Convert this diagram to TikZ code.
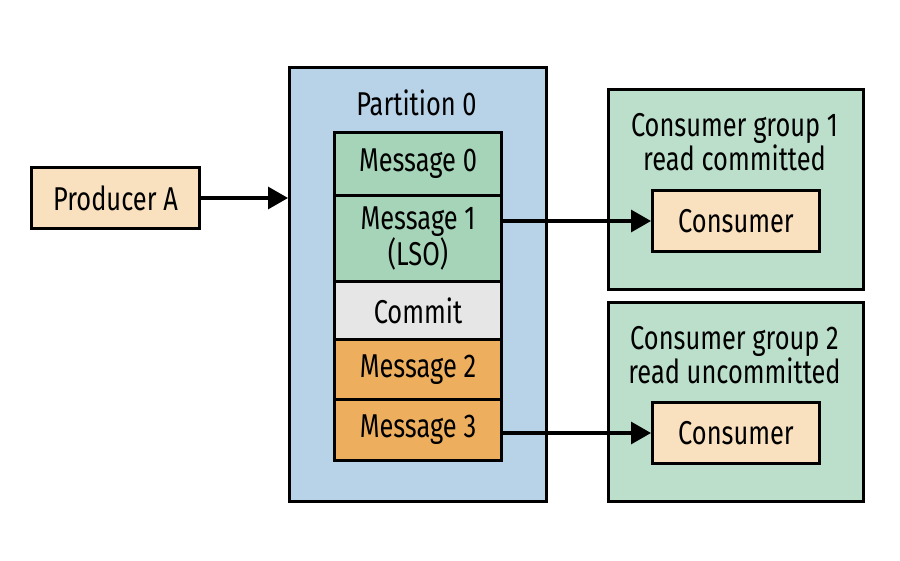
\documentclass[tikz,border=0pt]{standalone}
\usepackage{fontspec}
\setmainfont{Fira Sans}[FakeStretch=0.77]
\usetikzlibrary{arrows.meta}
\definecolor{partblue}{HTML}{B8D3E8}
\definecolor{msggreen}{HTML}{A6D4B8}
\definecolor{grpgreen}{HTML}{BCDFCB}
\definecolor{beige}{HTML}{F9E0BE}
\definecolor{commitgray}{HTML}{E6E6E6}
\definecolor{msgorange}{HTML}{EDAE5E}
\tikzset{
  box/.style={draw=black, line width=3pt, inner sep=0pt, anchor=north west, align=center,
    font=\fontsize{33}{33}\selectfont, text=black},
  lbl/.style={inner sep=0pt, align=center, font=\fontsize{33}{31}\selectfont, text=black},
  arr/.style={line width=3.2pt, -{Triangle[length=20pt,width=22pt]}},
}
\begin{document}
\begin{tikzpicture}[x=1pt,y=-1pt]
\useasboundingbox (0,0) rectangle (900,560);
% producer
\node[box, fill=beige, minimum width=168pt, minimum height=61pt] (prod) at (30,166) {Producer A};
% partition
\node[box, fill=partblue, minimum width=257pt, minimum height=434pt] (part) at (288,66) {};
\node[lbl] (ptitle) at (416.5,103) {Partition 0};
\node[box, fill=msggreen, minimum width=167pt, minimum height=63pt] (m0) at (333,131) {Message 0};
\node[box, fill=msggreen, minimum width=167pt, minimum height=86pt] (m1) at (333,194) {Message 1\\(LSO)};
\node[box, fill=commitgray, minimum width=167pt, minimum height=58pt] (cm) at (333,280) {Commit};
\node[box, fill=msgorange, minimum width=167pt, minimum height=60pt] (m2) at (333,338) {Message 2};
\node[box, fill=msgorange, minimum width=167pt, minimum height=61pt] (m3) at (333,398) {Message 3};
% consumer groups
\node[box, fill=grpgreen, minimum width=255pt, minimum height=200pt] (g1) at (607,88) {};
\node[lbl] (g1t) at (734.5,142) {Consumer group 1\\read committed};
\node[box, fill=beige, minimum width=167pt, minimum height=61pt] (c1) at (651,189) {Consumer};
\node[box, fill=grpgreen, minimum width=255pt, minimum height=199pt] (g2) at (607,301) {};
\node[lbl] (g2t) at (734.5,355) {Consumer group 2\\read uncommitted};
\node[box, fill=beige, minimum width=167pt, minimum height=61pt] (c2) at (651,401) {Consumer};
% arrows
\draw[arr] (prod.east) -- (prod.east -| part.west);
\draw[arr] (m1.east |- c1.west) -- (c1.west);
\draw[arr] (m3.east |- c2.west) -- (c2.west);
\end{tikzpicture}
\end{document}
